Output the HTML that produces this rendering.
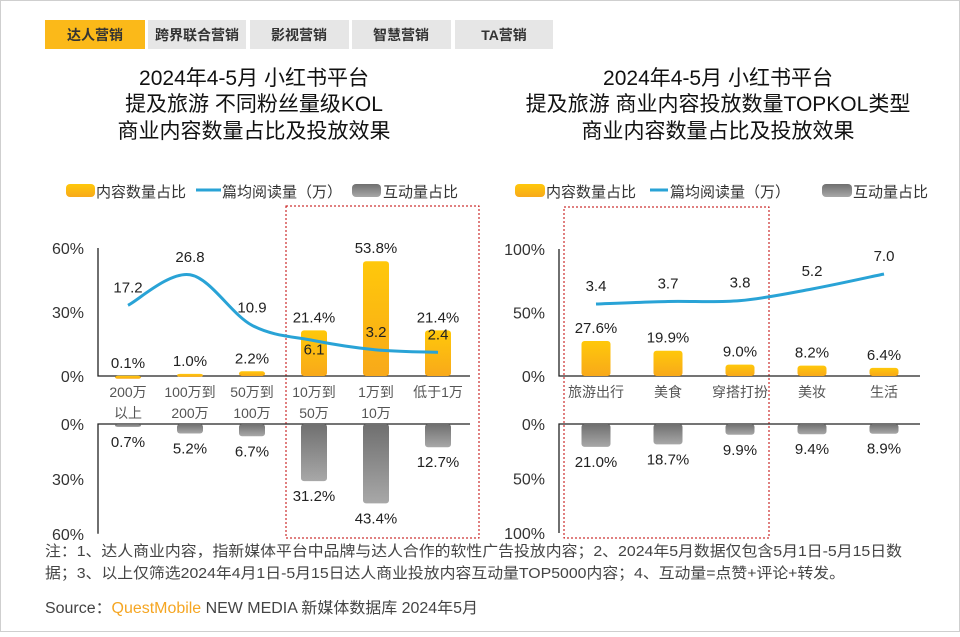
<!DOCTYPE html>
<html><head><meta charset="utf-8">
<style>
body{margin:0;background:#fff;}
svg text{font-family:"Liberation Sans","Noto Sans CJK SC",sans-serif;}
</style></head>
<body>
<svg id="c" width="960" height="632" viewBox="0 0 960 632" xmlns="http://www.w3.org/2000/svg">
<defs>
<linearGradient id="gy" x1="0" y1="0" x2="0" y2="1"><stop offset="0" stop-color="#ffc80a"/><stop offset="1" stop-color="#f8a91a"/></linearGradient>
<linearGradient id="gg" x1="0" y1="0" x2="0" y2="1"><stop offset="0" stop-color="#6f6f6f"/><stop offset="1" stop-color="#a8a8a8"/></linearGradient>
</defs>
<rect x="0.5" y="0.5" width="959" height="631" fill="#fff" stroke="#cfcfcf"/>
<g>
<rect x="45" y="20" width="100" height="29" fill="#fbb919"/>
<text x="95" y="40" font-size="14" font-weight="bold" text-anchor="middle" fill="#333">达人营销</text>
<rect x="148" y="20" width="98" height="29" fill="#e6e6e6"/>
<text x="197" y="40" font-size="14" font-weight="bold" text-anchor="middle" fill="#333">跨界联合营销</text>
<rect x="250" y="20" width="99" height="29" fill="#e6e6e6"/>
<text x="299" y="40" font-size="14" font-weight="bold" text-anchor="middle" fill="#333">影视营销</text>
<rect x="352" y="20" width="99" height="29" fill="#e6e6e6"/>
<text x="401" y="40" font-size="14" font-weight="bold" text-anchor="middle" fill="#333">智慧营销</text>
<rect x="455" y="20" width="98" height="29" fill="#e6e6e6"/>
<text x="504" y="40" font-size="14" font-weight="bold" text-anchor="middle" fill="#333">TA营销</text>
</g>
<g font-size="21" fill="#111" text-anchor="middle">
<text x="254" y="85">2024年4-5月 小红书平台</text>
<text x="254" y="111">提及旅游 不同粉丝量级KOL</text>
<text x="254" y="138">商业内容数量占比及投放效果</text>
</g>
<g font-size="21" fill="#111" text-anchor="middle">
<text x="718" y="85">2024年4-5月 小红书平台</text>
<text x="718" y="111">提及旅游 商业内容投放数量TOPKOL类型</text>
<text x="718" y="138">商业内容数量占比及投放效果</text>
</g>
<g font-size="15" fill="#333">
<rect x="66" y="184" width="29" height="13" rx="4" fill="url(#gy)"/><text x="96" y="197">内容数量占比</text>
<line x1="196" y1="190" x2="221" y2="190" stroke="#29a3d6" stroke-width="3"/><text x="222" y="197">篇均阅读量（万）</text>
<rect x="352" y="184" width="29" height="13" rx="4" fill="url(#gg)"/><text x="383" y="197">互动量占比</text>
</g>
<g font-size="15" fill="#333">
<rect x="515" y="184" width="30" height="13" rx="4" fill="url(#gy)"/><text x="546" y="197">内容数量占比</text>
<line x1="650" y1="190" x2="668" y2="190" stroke="#29a3d6" stroke-width="3"/><text x="670" y="197">篇均阅读量（万）</text>
<rect x="822" y="184" width="30" height="13" rx="4" fill="url(#gg)"/><text x="853" y="197">互动量占比</text>
</g>
<rect x="286" y="206" width="193" height="332" fill="none" stroke="#c00000" stroke-dasharray="2,2"/>
<rect x="564" y="207" width="205" height="331" fill="none" stroke="#c00000" stroke-dasharray="2,2"/>
<g id="charts"></g>
<g font-size="15" fill="#444">
<text x="45" y="556" textLength="857" lengthAdjust="spacingAndGlyphs">注：1、达人商业内容，指新媒体平台中品牌与达人合作的软性广告投放内容；2、2024年5月数据仅包含5月1日-5月15日数</text>
<text x="45" y="578" textLength="800" lengthAdjust="spacingAndGlyphs">据；3、以上仅筛选2024年4月1日-5月15日达人商业投放内容互动量TOP5000内容；4、互动量=点赞+评论+转发。</text>
</g>
<text x="45" y="613" font-size="15.5" fill="#444" textLength="433" lengthAdjust="spacingAndGlyphs">Source：<tspan fill="#f5a623">QuestMobile</tspan> NEW MEDIA 新媒体数据库 2024年5月</text>
</svg>
<script>
const leftCats=[["200万","以上"],["100万到","200万"],["50万到","100万"],["10万到","50万"],["1万到","10万"],["低于1万"]];
const leftContent=[0.1,1.0,2.2,21.4,53.8,21.4];
const leftRead=[17.2,26.8,10.9,6.1,3.2,2.4];
const leftInteract=[0.7,5.2,6.7,31.2,43.4,12.7];
const leftTopTicks=["0%","30%","60%"];
const leftBotTicks=["0%","30%","60%"];
const rightCats=[["旅游出行"],["美食"],["穿搭打扮"],["美妆"],["生活"]];
const rightContent=[27.6,19.9,9.0,8.2,6.4];
const rightRead=[3.4,3.7,3.8,5.2,7.0];
const rightInteract=[21.0,18.7,9.9,9.4,8.9];
const rightTopTicks=["0%","50%","100%"];
const rightBotTicks=["0%","50%","100%"];

const NS="http://www.w3.org/2000/svg";
const root=document.getElementById('charts');
function el(tag,attrs,parent){const e=document.createElementNS(NS,tag);for(const k in attrs)e.setAttribute(k,attrs[k]);(parent||root).appendChild(e);return e;}
function txt(x,y,s,size,anchor,parent){const t=el('text',{x:x,y:y,'font-size':size,'text-anchor':anchor||'middle',fill:'#222'},parent);t.textContent=s;return t;}

function draw(cfg){
  const g=el('g',{});
  
  
  const n=cfg.cats.length;
  const xc=i=>cfg.x0+cfg.step*i;
  const yTop=v=>cfg.top0-v*cfg.topK;
  const yBot=v=>cfg.bot0+v*cfg.botK;
  const yLine=v=>cfg.la-v*cfg.lb;
  const ax=el('path',{d:`M${cfg.ax},${cfg.top0-cfg.topMax*cfg.topK}V${cfg.top0}H${cfg.axEnd}M${cfg.ax},${cfg.bot0+cfg.botMax*cfg.botK}V${cfg.bot0}H${cfg.axEnd}`,stroke:'#222','stroke-width':1.3,fill:'none'},g);
  
  
  cfg.topTicks.forEach((t,i)=>{const v=cfg.topMax*i/(cfg.topTicks.length-1);const tt=txt(cfg.tickX,yTop(v)+6,t,16,'end',g);tt.setAttribute('fill','#333');});
  cfg.botTicks.forEach((t,i)=>{const v=cfg.botMax*i/(cfg.botTicks.length-1);const tt=txt(cfg.tickX,yBot(v)+6,t,16,'end',g);tt.setAttribute('fill','#333');});
  for(let i=0;i<n;i++){
    const x=xc(i);
    const ty=yTop(cfg.content[i]);
    const b=el('rect',{x:x-cfg.bw/2,y:ty,width:cfg.bw,height:Math.max(cfg.top0-ty,3),rx:3,fill:'url(#gy)'},g);
    
    
    const lt=txt(x,ty-8,cfg.content[i].toFixed(1)+'%',15,'middle',g);
    
    
    const by=yBot(cfg.interact[i]);
    const gb=el('rect',{x:x-cfg.bw/2,y:cfg.bot0,width:cfg.bw,height:Math.max(by-cfg.bot0,3),rx:3,fill:'url(#gg)'},g);
    
    
    const gt=txt(x,Math.max(by,cfg.bot0+3)+20,cfg.interact[i].toFixed(1)+'%',15,'middle',g);
    
    
    cfg.cats[i].forEach((s,j)=>{const c=txt(x,cfg.catY+j*21,s,14,'middle',g);c.setAttribute('fill','#555');});
  }
  const pts=cfg.read.map((v,i)=>[xc(i),yLine(v)]);
  let d=`M${pts[0][0]},${pts[0][1]}`;
  for(let i=0;i<pts.length-1;i++){
    const p0=pts[Math.max(i-1,0)],p1=pts[i],p2=pts[i+1],p3=pts[Math.min(i+2,pts.length-1)];
    const c1=[p1[0]+(p2[0]-p0[0])/6,p1[1]+(p2[1]-p0[1])/6];
    const c2=[p2[0]-(p3[0]-p1[0])/6,p2[1]-(p3[1]-p1[1])/6];
    d+=`C${c1[0]},${c1[1]} ${c2[0]},${c2[1]} ${p2[0]},${p2[1]}`;
  }
  const ln=el('path',{d:d,stroke:'#29a3d6','stroke-width':3,fill:'none'},g);
  
  
  pts.forEach((p,i)=>{
    const below=cfg.belowIdx===i;
    const t=txt(p[0],below?p[1]+14:p[1]-13,cfg.read[i].toFixed(1),15,'middle',g);
    
    
  });
}
draw({name:'left-chart',cats:leftCats,content:leftContent,read:leftRead,interact:leftInteract,topTicks:leftTopTicks,botTicks:leftBotTicks,
  x0:128,step:62,bw:26,ax:98,axEnd:470,top0:376,topK:128/60,topMax:60,bot0:424,botK:1.83,botMax:60,la:360,lb:3.18,tickX:84,catY:397,belowIdx:3});
draw({name:'right-chart',cats:rightCats,content:rightContent,read:rightRead,interact:rightInteract,topTicks:rightTopTicks,botTicks:rightBotTicks,
  x0:596,step:72,bw:29,ax:559,axEnd:920,top0:376,topK:1.27,topMax:100,bot0:424,botK:1.09,botMax:100,la:332.3,lb:8.33,tickX:545,catY:397,belowIdx:-1});
</script>
</body></html>
